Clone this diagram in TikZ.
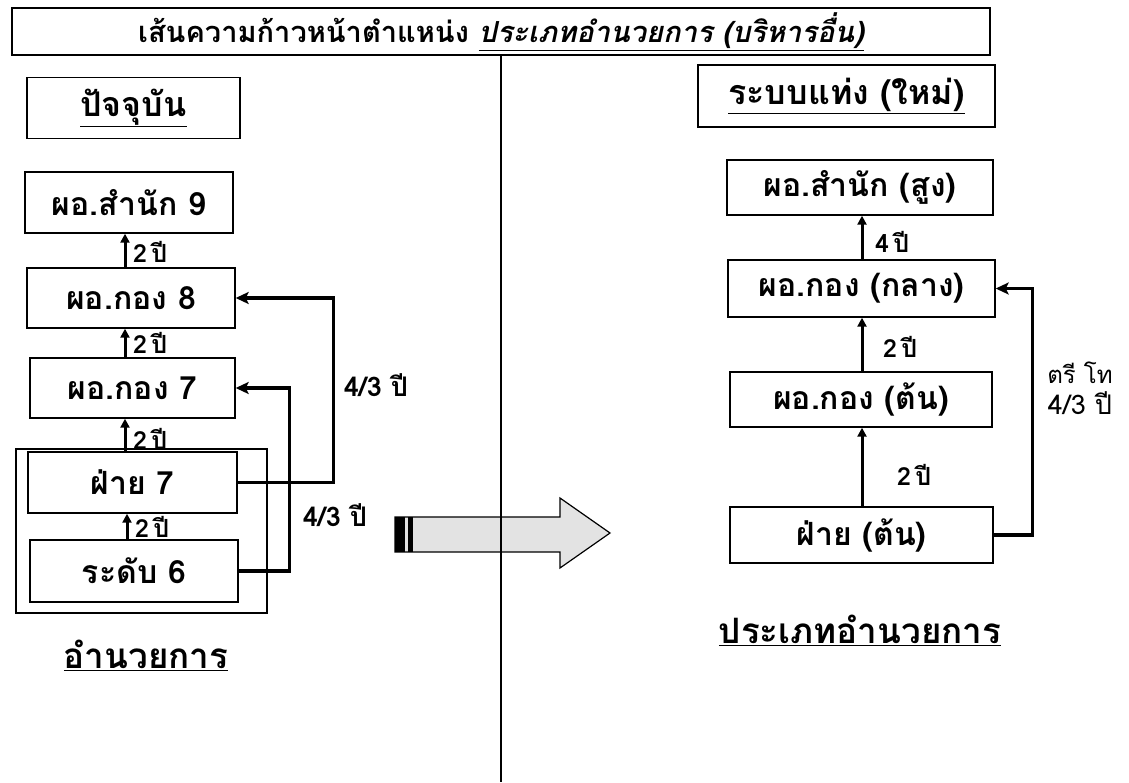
\documentclass[tikz,border=0pt]{standalone}
\usepackage{fontspec}
\newfontfamily\thai[Script=Thai]{Loma}
\usetikzlibrary{arrows.meta,calc}
\tikzset{
  box/.style={draw, line width=1.4pt, inner sep=0pt, font=\thai\bfseries\fontsize{32}{36}\selectfont},
  hdr/.style={box, font=\thai\bfseries\fontsize{34}{38}\selectfont},
  up/.style={line width=3pt, -{Triangle[length=9pt,width=9pt]}},
  conn/.style={line width=3.5pt, -{Stealth[length=13pt,width=12pt,inset=3pt]}},
  yr/.style={font=\thai\bfseries\fontsize{25}{28}\selectfont, anchor=west, inner sep=1pt},
  yrbig/.style={font=\thai\bfseries\fontsize{27}{30}\selectfont, inner sep=1pt},
  ulbl/.style={font=\thai\bfseries\fontsize{35}{38}\selectfont, inner sep=0pt},
}
\begin{document}
\begin{tikzpicture}[x=1pt,y=-1pt]
\useasboundingbox (0,0) rectangle (1129,782);
% title
\node[draw, line width=1.5pt, minimum width=978pt, minimum height=47pt, inner sep=0pt,
  font=\thai\bfseries\fontsize{29}{32}\selectfont] (title) at (501,31.5)
  {เส้นความก้าวหน้าตำแหน่ง \underline{{\itshape ประเภทอำนวยการ (บริหารอื่น)}}};
% divider
\coordinate (dtop) at (501,55);
\coordinate (dbot) at (501,782);
% big arrow
\fill[gray!22, draw=black, line width=1.2pt] (395,517) -- (560,517) -- (560,498) -- (610,533) -- (560,568) -- (560,552) -- (395,552) -- cycle;
\fill[black] (395,517) rectangle (405,552);
\fill[black] (408,517) rectangle (413,552);
\draw[line width=1.3pt] (dtop) -- (dbot);
% axis coordinates
\coordinate (axA) at (125,0);
\coordinate (axB) at (127,0);
\coordinate (axR) at (862,0);
% left column
\node[hdr, minimum width=213pt, minimum height=61pt] (hdrL) at (133.5,108) {\underline{ปัจจุบัน}};
\node[box, minimum width=208pt, minimum height=61pt] (n9) at (129,202.5) {ผอ.สำนัก 9};
\node[box, minimum width=208pt, minimum height=60pt] (n8) at (131,298) {ผอ.กอง 8};
\node[box, minimum width=205pt, minimum height=60pt] (n7) at (132.5,388) {ผอ.กอง 7};
\node[box, minimum width=209pt, minimum height=61pt] (f7) at (132.5,482.5) {ฝ่าย 7};
\node[box, minimum width=208pt, minimum height=62pt] (r6) at (134,571) {ระดับ 6};
\draw[line width=1.4pt] (16,449) rectangle (267,613);
\node[ulbl] (lblL) at (146,655) {\underline{อำนวยการ}};
% small arrows left
\draw[up] (n8.north -| axA) -- (n9.south -| axA);
\draw[up] (n7.north -| axA) -- (n8.south -| axA);
\draw[up] (f7.north -| axA) -- (n7.south -| axA);
\draw[up] (r6.north -| axB) -- (f7.south -| axB);
\node[yr] (y1) at (132,252) {2\,ปี};
\node[yr] (y2) at (132,343) {2\,ปี};
\node[yr] (y3) at (132,439) {2\,ปี};
\node[yr] (y4) at (134,527) {2\,ปี};
% connectors left
\draw[conn] (f7.east) -| ($(n8.east)+(98,0)$) -- (n8.east);
\draw[conn] (r6.east) -| ($(n7.east)+(54,0)$) -- (n7.east);
\node[yrbig] (c1) at (376,385) {4/3 ปี};
\node[yrbig] (c2) at (335,515) {4/3 ปี};
% right column
\node[hdr, minimum width=297pt, minimum height=62pt] (hdrR) at (846.5,96) {\underline{ระบบแท่ง (ใหม่)}};
\node[box, minimum width=266pt, minimum height=55pt] (s) at (860,187.5) {ผอ.สำนัก (สูง)};
\node[box, minimum width=267pt, minimum height=57pt] (m) at (861.5,288.5) {ผอ.กอง (กลาง)};
\node[box, minimum width=262pt, minimum height=55pt] (t) at (861,399.5) {ผอ.กอง (ต้น)};
\node[box, minimum width=263pt, minimum height=56pt] (fR) at (861.5,535) {ฝ่าย (ต้น)};
\draw[up] (m.north -| axR) -- (s.south -| axR);
\draw[up] (t.north -| axR) -- (m.south -| axR);
\draw[up] (fR.north -| axR) -- (t.south -| axR);
\node[yr] (y5) at (874,242) {4\,ปี};
\node[yr] (y6) at (882,347) {2\,ปี};
\node[yr] (y7) at (896,475) {2\,ปี};
\draw[conn] (fR.east) -| ($(m.east)+(37,0)$) -- (m.east);
\node[font=\thai\fontsize{24}{26}\selectfont, inner sep=1pt] (hw) at (1080,373) {ตรี โท};
\node[yrbig, font=\thai\fontsize{27}{30}\selectfont] (c3) at (1080,403) {4/3 ปี};
\node[ulbl] (lblR) at (860,630) {\underline{ประเภทอำนวยการ}};
\end{tikzpicture}
\end{document}
